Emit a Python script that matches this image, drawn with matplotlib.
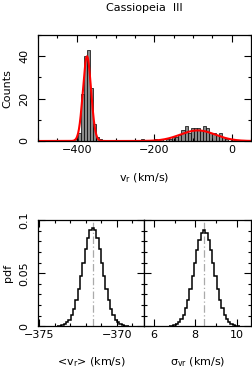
import numpy as np
import matplotlib
matplotlib.use("Agg")
from matplotlib import pyplot as plt
from matplotlib.ticker import MultipleLocator

plt.rcParams['font.family'] = ['DejaVu Sans']
plt.rcParams['font.size'] = 8

# top panel: velocity histogram, 8 km/s bins
bin_w = 8
peak_start = -406
peak_counts = [1, 4, 22, 40, 43, 25, 8, 2, 1]
halo_start = -234
halo_counts = [1, 0, 0, 0, 1, 0, 1, 0, 1, 1, 2, 2, 3, 5, 7,
               4, 6, 6, 6, 5, 7, 6, 4, 4, 3, 4, 2, 1, 0, 1]

# two-gaussian fit (mean, sigma, peak counts)
fit_params = [(-373.5, 10.5, 40.0), (-88.0, 45.0, 5.0)]

# bottom panels: posterior pdfs
vmean_best = -371.55
vmean_w = 0.15
vmean_pdf = [0.0002, 0.0004, 0.0009, 0.0018, 0.0035, 0.0061, 0.0103, 0.0163,
             0.0245, 0.0349, 0.0471, 0.0601, 0.0728, 0.0834, 0.0905, 0.0930,
             0.0905, 0.0834, 0.0728, 0.0601, 0.0471, 0.0349, 0.0245, 0.0163,
             0.0103, 0.0061, 0.0035, 0.0018, 0.0009, 0.0004, 0.0002]

sigma_best = 8.43
sigma_w = 0.11
sigma_pdf = [0.0002, 0.0005, 0.0011, 0.0021, 0.0038, 0.0066, 0.0108, 0.0169,
             0.0250, 0.0352, 0.0470, 0.0595, 0.0715, 0.0815, 0.0882, 0.0905,
             0.0882, 0.0815, 0.0715, 0.0595, 0.0470, 0.0352, 0.0250, 0.0169,
             0.0108, 0.0066, 0.0038, 0.0021, 0.0011, 0.0005, 0.0002]

fig = plt.figure(figsize=(2.53, 3.74), dpi=100)
ax = fig.add_axes([0.150, 0.623, 0.843, 0.283])
ax1 = fig.add_axes([0.150, 0.128, 0.421, 0.283])
ax2 = fig.add_axes([0.571, 0.128, 0.422, 0.283])

for start, counts in [(peak_start, peak_counts), (halo_start, halo_counts)]:
    edges = start + bin_w * np.arange(len(counts))
    ax.bar(edges, counts, width=bin_w, align='edge', color='#8a8a8a',
           edgecolor='black', linewidth=0.5)

xs = np.linspace(-500, 50, 1000)
model = np.zeros_like(xs)
for mu, sig, amp in fit_params:
    model += amp * np.exp(-0.5 * ((xs - mu) / sig) ** 2)
ax.plot(xs, model, color='red', lw=1.5)

ax.set_xlim(-500, 50)
ax.set_ylim(0, 50)
ax.xaxis.set_major_locator(MultipleLocator(200))
ax.xaxis.set_minor_locator(MultipleLocator(50))
ax.yaxis.set_major_locator(MultipleLocator(20))
ax.yaxis.set_minor_locator(MultipleLocator(10))
ax.set_ylabel('Counts', labelpad=5)
ax.set_xlabel('v$_\\mathrm{r}$ (km/s)', labelpad=12)
fig.text(0.5715, 1 - 8 / 374, 'Cassiopeia  III', ha='center', va='center')

for a, best, w, pdf in [(ax1, vmean_best, vmean_w, vmean_pdf),
                        (ax2, sigma_best, sigma_w, sigma_pdf)]:
    edges = best - w * len(pdf) / 2 + w * np.arange(len(pdf) + 1)
    a.stairs(pdf, edges, color='black', lw=1.1)
    a.axvline(best, color='#aaaaaa', ls=(0, (6, 2, 1, 2)), lw=0.9, zorder=0)
    a.set_ylim(0, 0.1)
    a.yaxis.set_major_locator(MultipleLocator(0.05))
    a.yaxis.set_minor_locator(MultipleLocator(0.01))

ax1.set_xlim(-375.1, -368.2)
ax1.xaxis.set_major_locator(MultipleLocator(5))
ax1.xaxis.set_minor_locator(MultipleLocator(1))
ax1.set_yticks([0, 0.05, 0.1], ['0', '0.05', '0.1'])
ax1.set_ylabel('pdf', labelpad=5)
ax1.set_xlabel('<v$_\\mathrm{r}$> (km/s)', labelpad=11)

ax2.set_xlim(5.55, 10.7)
ax2.xaxis.set_major_locator(MultipleLocator(2))
ax2.xaxis.set_minor_locator(MultipleLocator(1))
ax2.tick_params(axis='y', labelleft=False)
ax2.set_xlabel('σ$_\\mathrm{vr}$ (km/s)', labelpad=11)

for a in (ax, ax1, ax2):
    a.tick_params(which='both', direction='in', top=True, right=True, width=0.8)
    a.tick_params(which='major', length=5)
    a.tick_params(which='minor', length=2.5)
    a.tick_params(axis='x', pad=3)
    a.tick_params(axis='y', pad=6)
    for lab in a.get_yticklabels():
        lab.set_rotation(90)
        lab.set_va('center')
    for s in a.spines.values():
        s.set_linewidth(0.9)

fig.savefig('out.png', dpi=100)
